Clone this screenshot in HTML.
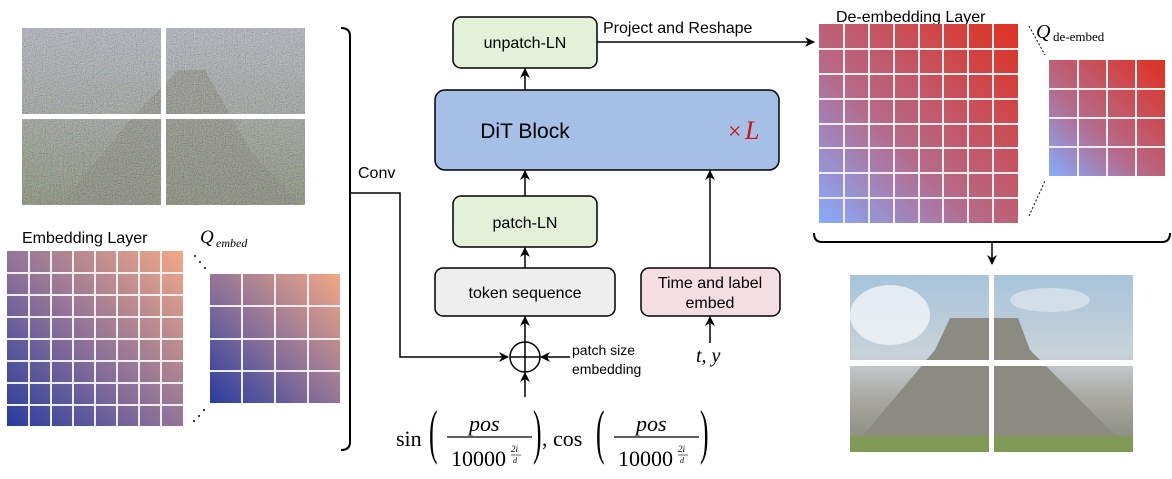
<!DOCTYPE html>
<html><head><meta charset="utf-8"><style>
html,body{margin:0;padding:0;background:#fff;width:1172px;height:479px;overflow:hidden}
svg{display:block}
text{font-family:"Liberation Sans",sans-serif;fill:#000}
.m{font-family:"Liberation Serif",serif;font-style:italic}
.r{font-family:"Liberation Serif",serif}
</style></head><body>
<svg width="1172" height="479" viewBox="0 0 1172 479" xmlns="http://www.w3.org/2000/svg">
<defs>
<linearGradient id="ge" x1="0" y1="1" x2="1" y2="0"><stop offset="0" stop-color="#283c9e"/><stop offset="0.45" stop-color="#8a7098"/><stop offset="1" stop-color="#f2a886"/></linearGradient>
<linearGradient id="gd" x1="0" y1="1" x2="1" y2="0"><stop offset="0" stop-color="#85acff"/><stop offset="0.4" stop-color="#b56a8a"/><stop offset="1" stop-color="#e03020"/></linearGradient>
<linearGradient id="noisy" x1="0" y1="0" x2="0" y2="1"><stop offset="0" stop-color="#a9adb8"/><stop offset="0.5" stop-color="#8f958f"/><stop offset="1" stop-color="#6f7a5a"/></linearGradient>
<linearGradient id="clean" x1="0" y1="0" x2="0" y2="1"><stop offset="0" stop-color="#a7c4dc"/><stop offset="0.45" stop-color="#c8d2d8"/><stop offset="0.7" stop-color="#a9a8a0"/><stop offset="0.95" stop-color="#8a8c80"/><stop offset="1" stop-color="#7f9a55"/></linearGradient>
<filter id="nz" x="0" y="0" width="100%" height="100%"><feTurbulence type="fractalNoise" baseFrequency="0.9" numOctaves="1" seed="3"/><feColorMatrix type="matrix" values="1.6 0 0 0 -0.3  0 1.6 0 0 -0.3  0 0 1.6 0 -0.3  0 0 0 0 0.45"/></filter>
<marker id="a" markerWidth="10" markerHeight="10" refX="9" refY="5" orient="auto" markerUnits="userSpaceOnUse"><path d="M0,0 L10,5 L0,10 L3,5 Z" fill="#000"/></marker>
</defs>

<!-- noisy image -->
<rect x="22" y="28" width="283" height="177" fill="url(#noisy)"/>
<polygon points="60,205 130,120 178,70 205,70 250,150 300,205" fill="#6e7060" opacity="0.6"/>
<rect x="22" y="28" width="283" height="177" filter="url(#nz)"/>
<rect x="161" y="28" width="5" height="177" fill="#fff"/>
<rect x="22" y="114" width="283" height="5" fill="#fff"/>

<!-- embedding layer -->
<text x="22" y="243" font-size="16">Embedding Layer</text>
<text x="200" y="243" font-size="19" class="m">Q</text>
<text x="216" y="247" font-size="12" class="m">embed</text>
<rect x="7" y="251" width="176" height="175" fill="url(#ge)"/>
<g stroke="#eee" stroke-width="2">
<line x1="29" y1="251" x2="29" y2="426"/><line x1="51" y1="251" x2="51" y2="426"/><line x1="73" y1="251" x2="73" y2="426"/><line x1="95" y1="251" x2="95" y2="426"/><line x1="117" y1="251" x2="117" y2="426"/><line x1="139" y1="251" x2="139" y2="426"/><line x1="161" y1="251" x2="161" y2="426"/>
<line x1="7" y1="273" x2="183" y2="273"/><line x1="7" y1="295" x2="183" y2="295"/><line x1="7" y1="317" x2="183" y2="317"/><line x1="7" y1="339" x2="183" y2="339"/><line x1="7" y1="361" x2="183" y2="361"/><line x1="7" y1="383" x2="183" y2="383"/><line x1="7" y1="405" x2="183" y2="405"/>
</g>
<rect x="210" y="274" width="130" height="129" fill="url(#ge)"/>
<g stroke="#eee" stroke-width="2">
<line x1="242" y1="274" x2="242" y2="403"/><line x1="275" y1="274" x2="275" y2="403"/><line x1="308" y1="274" x2="308" y2="403"/>
<line x1="210" y1="306" x2="340" y2="306"/><line x1="210" y1="339" x2="340" y2="339"/><line x1="210" y1="371" x2="340" y2="371"/>
</g>
<g fill="#000"><circle cx="195" cy="256" r="1"/><circle cx="200" cy="262" r="1"/><circle cx="205" cy="268" r="1"/><circle cx="194" cy="421" r="1"/><circle cx="199" cy="416" r="1"/><circle cx="204" cy="410" r="1"/></g>

<!-- left bracket -->
<path d="M341,28 Q350,28 350,36 L350,442 Q350,450 341,450" fill="none" stroke="#000" stroke-width="2"/>
<text x="358" y="178" font-size="16">Conv</text>
<path d="M350,193 L400,193 L400,357 L508,357" fill="none" stroke="#000" stroke-width="1.5" marker-end="url(#a)"/>

<!-- center boxes -->
<rect x="453" y="17" width="144" height="51" rx="8" fill="#e4f0d8" stroke="#000" stroke-width="1.5"/>
<text x="525" y="48" font-size="16" text-anchor="middle">unpatch-LN</text>
<rect x="435" y="90" width="344" height="80" rx="10" fill="#a6bfe6" stroke="#000" stroke-width="1.5"/>
<text x="525" y="138" font-size="21" text-anchor="middle">DiT Block</text>
<text x="728" y="139" font-size="24" class="r" style="fill:#d01010">×</text>
<text x="745" y="139" font-size="26" class="m" style="fill:#d01010">L</text>
<rect x="453" y="196" width="144" height="51" rx="8" fill="#e4f0d8" stroke="#000" stroke-width="1.5"/>
<text x="525" y="228" font-size="16" text-anchor="middle">patch-LN</text>
<rect x="435" y="268" width="180" height="48" rx="8" fill="#eeeeee" stroke="#000" stroke-width="1.5"/>
<text x="525" y="298" font-size="16" text-anchor="middle">token sequence</text>
<rect x="641" y="268" width="139" height="48" rx="8" fill="#f5dde4" stroke="#000" stroke-width="1.5"/>
<text x="710" y="288" font-size="16" text-anchor="middle">Time and label</text>
<text x="710" y="308" font-size="16" text-anchor="middle">embed</text>

<g stroke="#000" stroke-width="1.5" fill="none">
<line x1="525" y1="90" x2="525" y2="69" marker-end="url(#a)"/>
<line x1="525" y1="196" x2="525" y2="171" marker-end="url(#a)"/>
<line x1="525" y1="268" x2="525" y2="248" marker-end="url(#a)"/>
<line x1="525" y1="342" x2="525" y2="317" marker-end="url(#a)"/>
<line x1="525" y1="397" x2="525" y2="373" marker-end="url(#a)"/>
<line x1="570" y1="357" x2="541" y2="357" marker-end="url(#a)"/>
<line x1="710" y1="343" x2="710" y2="317" marker-end="url(#a)"/>
<line x1="710" y1="268" x2="710" y2="171" marker-end="url(#a)"/>
<line x1="597" y1="42" x2="814" y2="42" marker-end="url(#a)"/>
<circle cx="525" cy="357" r="15"/>
<line x1="510" y1="357" x2="540" y2="357"/><line x1="525" y1="342" x2="525" y2="372"/>
</g>
<text x="603" y="33" font-size="16">Project and Reshape</text>
<text x="572" y="355" font-size="14">patch size</text>
<text x="572" y="374" font-size="14">embedding</text>
<text x="696" y="362" font-size="20" class="m">t, y</text>

<!-- formula -->
<text x="396" y="446" font-size="22" class="r">sin</text>
<text x="0" y="0" font-size="32" class="r" transform="translate(429,452) scale(0.8,1.9)">(</text>
<text x="469" y="431" font-size="22" class="m">pos</text>
<line x1="447" y1="437" x2="532" y2="437" stroke="#000" stroke-width="1.2"/>
<text x="451" y="466" font-size="22" class="r">10000</text>
<text x="511" y="452" font-size="9" class="m">2i</text>
<line x1="511" y1="455" x2="521" y2="455" stroke="#000" stroke-width="0.6"/>
<text x="513" y="463" font-size="8" class="m">d</text>
<text x="0" y="0" font-size="32" class="r" transform="translate(533,452) scale(0.8,1.9)">)</text>
<text x="542" y="446" font-size="22" class="r">, cos</text>
<text x="0" y="0" font-size="32" class="r" transform="translate(596,452) scale(0.8,1.9)">(</text>
<text x="636" y="431" font-size="22" class="m">pos</text>
<line x1="614" y1="437" x2="699" y2="437" stroke="#000" stroke-width="1.2"/>
<text x="618" y="466" font-size="22" class="r">10000</text>
<text x="678" y="452" font-size="9" class="m">2i</text>
<line x1="678" y1="455" x2="688" y2="455" stroke="#000" stroke-width="0.6"/>
<text x="680" y="463" font-size="8" class="m">d</text>
<text x="0" y="0" font-size="32" class="r" transform="translate(700,452) scale(0.8,1.9)">)</text>

<!-- de-embedding -->
<text x="836" y="22" font-size="16">De-embedding Layer</text>
<text x="1036" y="38" font-size="20" class="m">Q</text>
<text x="1053" y="41" font-size="13" class="r">de-embed</text>
<rect x="819" y="24" width="199" height="199" fill="url(#gd)"/>
<g stroke="#eee" stroke-width="2">
<line x1="844" y1="24" x2="844" y2="223"/><line x1="869" y1="24" x2="869" y2="223"/><line x1="894" y1="24" x2="894" y2="223"/><line x1="919" y1="24" x2="919" y2="223"/><line x1="943" y1="24" x2="943" y2="223"/><line x1="968" y1="24" x2="968" y2="223"/><line x1="993" y1="24" x2="993" y2="223"/>
<line x1="819" y1="49" x2="1018" y2="49"/><line x1="819" y1="74" x2="1018" y2="74"/><line x1="819" y1="99" x2="1018" y2="99"/><line x1="819" y1="124" x2="1018" y2="124"/><line x1="819" y1="148" x2="1018" y2="148"/><line x1="819" y1="173" x2="1018" y2="173"/><line x1="819" y1="198" x2="1018" y2="198"/>
</g>
<rect x="1049" y="60" width="116" height="116" fill="url(#gd)"/>
<g stroke="#eee" stroke-width="2">
<line x1="1078" y1="60" x2="1078" y2="176"/><line x1="1107" y1="60" x2="1107" y2="176"/><line x1="1136" y1="60" x2="1136" y2="176"/>
<line x1="1049" y1="89" x2="1165" y2="89"/><line x1="1049" y1="118" x2="1165" y2="118"/><line x1="1049" y1="147" x2="1165" y2="147"/>
</g>
<g stroke="#000" stroke-width="1" stroke-dasharray="2,2">
<line x1="1029" y1="26" x2="1045" y2="55"/><line x1="1029" y1="216" x2="1045" y2="181"/>
</g>
<path d="M814,233 Q814,242 822,242 L1162,242 Q1170,242 1170,233" fill="none" stroke="#000" stroke-width="2"/>
<line x1="992" y1="242" x2="992" y2="264" stroke="#000" stroke-width="1.5" marker-end="url(#a)"/>

<!-- clean image -->
<rect x="850" y="275" width="283" height="177" fill="url(#clean)"/>
<ellipse cx="890" cy="315" rx="40" ry="30" fill="#eef2f5" opacity="0.85"/>
<ellipse cx="1050" cy="300" rx="40" ry="12" fill="#e6edf2" opacity="0.6"/>
<polygon points="855,445 935,350 950,318 1018,318 1030,350 1125,445" fill="#8c8b82"/>
<rect x="850" y="436" width="283" height="16" fill="#7f9a55"/>
<rect x="989" y="275" width="5" height="177" fill="#fff"/>
<rect x="850" y="360" width="283" height="6" fill="#fff"/>
</svg>
</body></html>
